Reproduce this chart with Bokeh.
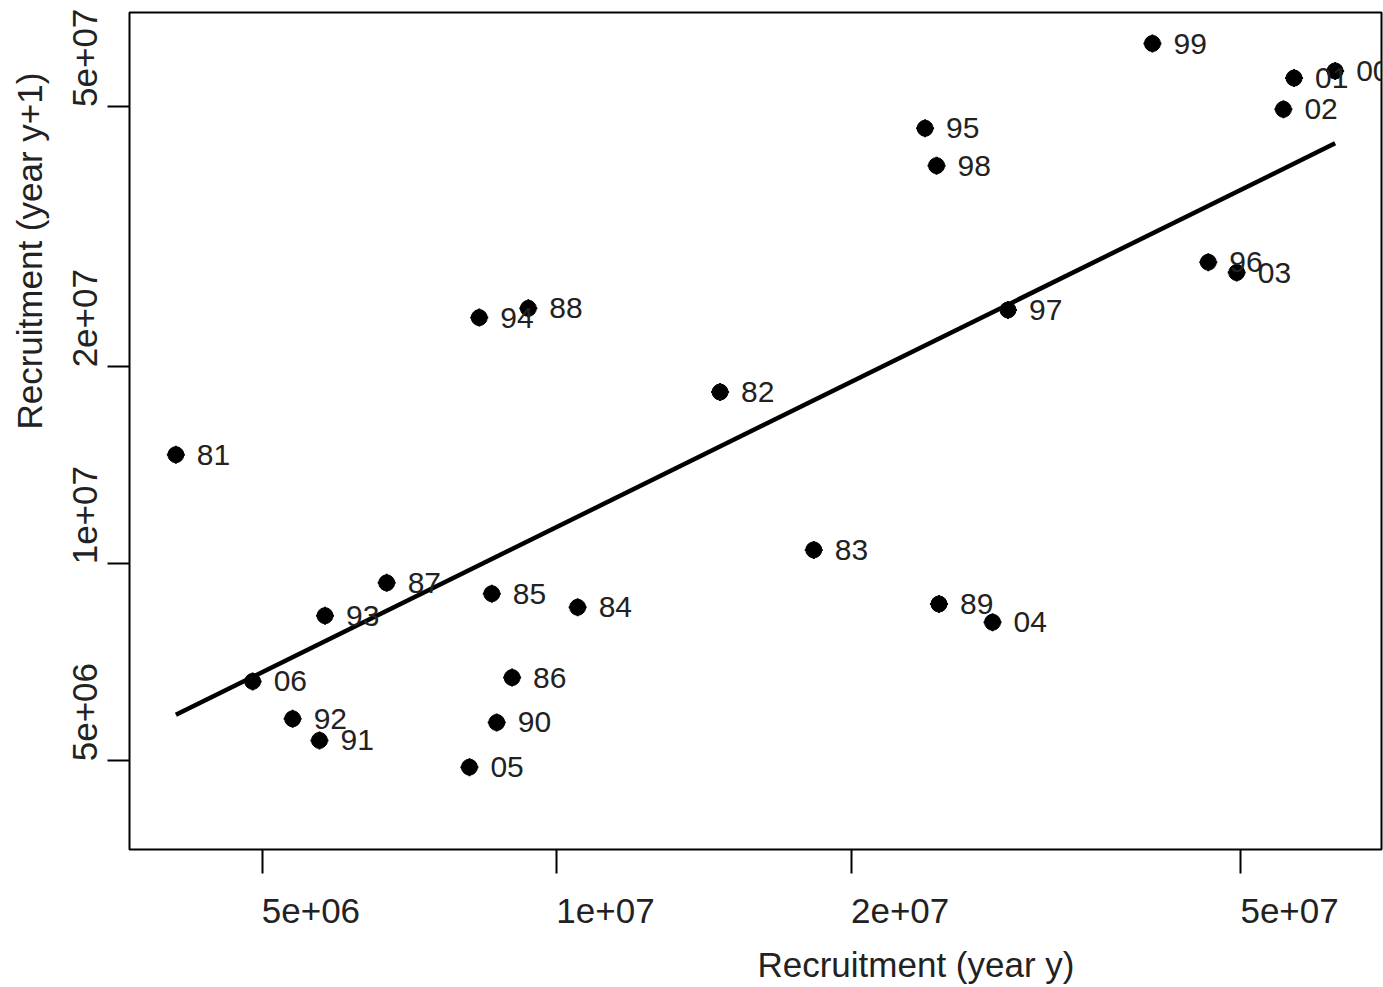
import numpy as np
from bokeh.plotting import figure
from bokeh.models import Range1d, FixedTicker
from bokeh.embed import file_html
from bokeh.resources import INLINE
from bokeh.core.properties import value

# ---- data ----
years = list(range(1981, 2008))
recruitment = [4.08e6, 1.468e7, 1.83e7, 1.05e7, 8.58e6, 9.0e6, 6.70e6, 9.35e6,
               2.457e7, 8.68e6, 5.72e6, 5.37e6, 5.795e6, 8.33e6, 2.378e7, 4.63e7,
               2.89e7, 2.443e7, 4.06e7, 6.24e7, 5.665e7, 5.525e7, 4.95e7, 2.787e7,
               8.14e6, 4.888e6, 6.61e6]
tick_values = [5e6, 1e7, 2e7, 5e7]
tick_labels = ["5e+06", "1e+07", "2e+07", "5e+07"]
x_title = "Recruitment (year y)"
y_title = "Recruitment (year y+1)"

rec = np.array(recruitment)
xs = rec[:-1]
ys = rec[1:]
point_labels = [f"{yr % 100:02d}" for yr in years[:-1]]

lo, hi = np.log10(rec.min()), np.log10(rec.max())
pad = 0.04 * (hi - lo)
rng = (10 ** (lo - pad), 10 ** (hi + pad))

# regression in log space
b, a = np.polyfit(np.log10(xs), np.log10(ys), 1)
fx = np.array([xs.min(), xs.max()])
fy = 10 ** (a + b * np.log10(fx))

FONT = "Liberation Sans"
TXT = "#222222"
NB = "\u00a0"


def start_anchored(s, n):
    # texts in the reference start at the point where they would be centred
    return NB * n + s


p = figure(width=1383, height=987, x_axis_type="log", y_axis_type="log",
           x_range=Range1d(*rng), y_range=Range1d(*rng),
           output_backend="svg", toolbar_location=None,
           min_border_left=129, min_border_right=2, min_border_top=12,
           min_border_bottom=138)
p.background_fill_color = "white"
p.border_fill_color = "white"
p.outline_line_color = "black"
p.outline_line_width = 2
p.xgrid.visible = False
p.ygrid.visible = False

for ax, tl in ((p.xaxis, 24), (p.yaxis, 22)):
    ax.ticker = FixedTicker(ticks=tick_values, minor_ticks=[])
    ax.major_tick_out = tl
    ax.major_tick_in = 0
    ax.minor_tick_out = 0
    ax.minor_tick_in = 0
    ax.major_tick_line_width = 2
    ax.major_tick_line_color = "black"
    ax.axis_line_color = None
    ax.major_label_overrides = {t: start_anchored(s, 10)
                                for t, s in zip(tick_values, tick_labels)}
    ax.major_label_text_font = FONT
    ax.major_label_text_font_size = "35px"
    ax.major_label_text_color = TXT
    ax.axis_label_text_font = FONT
    ax.axis_label_text_font_size = "35px"
    ax.axis_label_text_font_style = "normal"
    ax.axis_label_text_color = TXT

p.xaxis.major_label_standoff = 17
p.xaxis.axis_label = start_anchored(x_title, 33)
p.xaxis.axis_label_standoff = 12

p.yaxis.major_label_orientation = "vertical"
p.yaxis.major_label_standoff = 3
p.yaxis.axis_label = start_anchored(y_title, 37)
p.yaxis.axis_label_standoff = 14

# regression line, points, labels
p.line(fx, fy, line_width=4.5, line_color="black")
p.scatter(xs, ys, size=16, fill_color="black", line_color="black")
p.scatter(xs, ys, marker="cross", size=18, line_color="black", line_width=2)
p.text(x=xs, y=ys, text=point_labels, x_offset=21, text_align="left",
       text_baseline="middle", text_font=value(FONT), text_font_size="30px",
       text_color=TXT)

open("out.html", "w").write(file_html(p, INLINE))
